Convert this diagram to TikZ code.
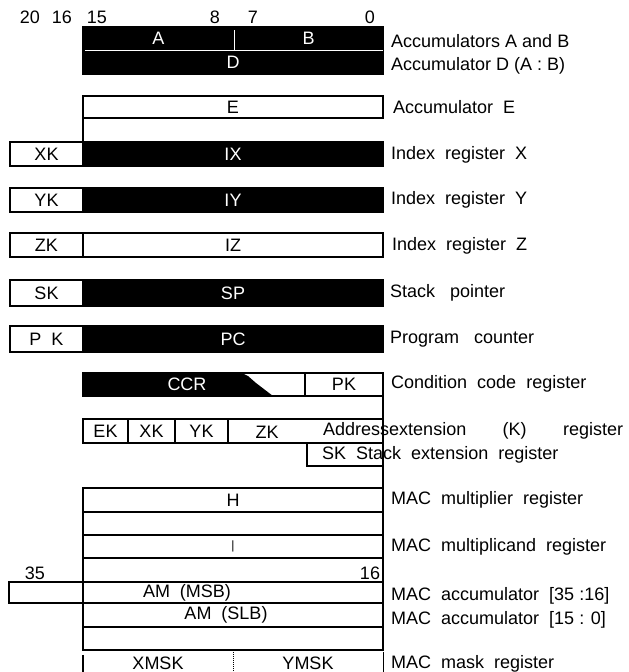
\documentclass[tikz,border=0pt]{standalone}
\usepackage{fontspec}
\setmainfont{Liberation Sans}
\usepackage{tikz}

\begin{document}
\begin{tikzpicture}[x=1pt, y=-1pt, font=\fontsize{18}{21}\selectfont,
    reg/.style={draw, line width=1.4pt, inner sep=0pt, outer sep=0pt, minimum height=24pt},
    dark/.style={reg, fill=black, text=white},
    lbl/.style={anchor=west, inner sep=0pt},
    bit/.style={inner sep=0pt}]
  \useasboundingbox (0,0) rectangle (629,672);
  \node[bit] (b20) at (30,17) {20};
  \node[bit] (b16) at (62,17) {16};
  \node[bit] (b15) at (97,17) {15};
  \node[bit] (b8) at (215,17) {8};
  \node[bit] (b7) at (253,17) {7};
  \node[bit] (b0) at (370,17) {0};

  \node[dark, minimum width=151pt, minimum height=23pt] (A) at (158.5,38.5) {A};
  \node[dark, minimum width=149pt, minimum height=23pt] (B) at (308.5,38.5) {B};
  \node[dark, minimum width=300pt] (D) at (233,62) {D};
  \draw[white, line width=1pt, shorten <=3pt] (A.north east) -- (A.south east);
  \draw[white, line width=1pt, shorten <=2pt] (D.north west) -- (D.north east);

  \node[reg, minimum width=300pt, minimum height=22pt] (E) at (233,107) {E};

  \node[reg, minimum width=73pt] (XKi) at (46.5,154) {XK};
  \node[dark, minimum width=300pt] (IX) at (233,154) {IX};
  \draw[line width=1.4pt] (E.south west) -- (IX.north west);
  \node[reg, minimum width=73pt] (YKi) at (46.5,200) {YK};
  \node[dark, minimum width=300pt] (IY) at (233,200) {IY};
  \node[reg, minimum width=73pt] (ZKi) at (46.5,245) {ZK};
  \node[reg, minimum width=300pt] (IZ) at (233,245) {IZ};
  \node[reg, minimum width=73pt, minimum height=26pt] (SKi) at (46.5,293) {SK};
  \node[dark, minimum width=300pt, minimum height=26pt] (SP) at (233,293) {SP};
  \node[reg, minimum width=73pt, minimum height=26pt] (PKi) at (46.5,339) {P\ \ K};
  \node[dark, minimum width=300pt, minimum height=26pt] (PC) at (233,339) {PC};

  \node[reg, minimum width=222pt, minimum height=23pt, text=white,
    path picture={\fill (path picture bounding box.north west) -- ++(159,0)
      -- ++(6,3) -- ++(8,7) -- ++(17,13) -- (path picture bounding box.south west) -- cycle;}]
    (CCR) at (194,384.5) {\hspace*{-14pt}CCR};
  \node[reg, minimum width=78pt, minimum height=23pt] (PKc) at (344,384.5) {PK};

  \node[reg, minimum width=45pt] (EKa) at (105.5,431) {EK};
  \node[reg, minimum width=47pt] (XKa) at (151.5,431) {XK};
  \node[reg, minimum width=53pt] (YKa) at (201.5,431) {YK};
  \node[reg, minimum width=155pt] (ZKa) at (305.5,431) {};
  \node[bit] (ZKt) at (267,432) {ZK};
  \node[reg, minimum width=76pt, minimum height=23pt] (SKs) at (345,454.5) {};

  \node[reg, minimum width=300pt] (H) at (233,500) {H};
  \draw[line width=1.4pt] (PKc.south east) -- (H.north east);
  \node[reg, minimum width=300pt, minimum height=23pt] (M1) at (233,523.5) {};
  \node[reg, minimum width=300pt, minimum height=23pt] (M2) at (233,546.5) {\fontsize{12}{12}\selectfont|};
  \node[reg, minimum width=300pt] (M3) at (233,570) {};
  \node[bit] (b35) at (35,573) {35};
  \node[bit] (b16m) at (370,573) {16};
  \node[reg, minimum width=74pt, minimum height=21pt] (AMx) at (46,592.5) {};
  \node[reg, minimum width=300pt, minimum height=21pt] (AMh) at (233,592.5) {};
  \node[bit] (tMSB) at (187,592.5) {AM\ \ (MSB)};
  \node[reg, minimum width=300pt] (AMl) at (233,615) {};
  \node[bit] (tSLB) at (226,615) {AM\ \ (SLB)};
  \node[reg, minimum width=300pt, minimum height=23pt] (M4) at (233,638.5) {};
  \node[inner sep=0pt, minimum width=150pt, minimum height=22pt, text height=16pt, text depth=0pt] (XMSK) at (158,661) {XMSK};
  \node[inner sep=0pt, minimum width=150pt, minimum height=22pt, text height=16pt, text depth=0pt] (YMSK) at (308,661) {YMSK};
  \draw[line width=1.4pt] ([yshift=-5pt]XMSK.north west) -- (XMSK.south west);
  \draw[line width=1pt, densely dotted] (XMSK.north east) -- (XMSK.south east);
  \draw[line width=1.4pt] ([yshift=-2pt]YMSK.north east) -- (YMSK.south east);

  \node[lbl] (nAB) at (391,41) {Accumulators A and B};
  \node[lbl] (nD) at (391,66) {Accumulator D (A : B)};
  \node[lbl] (nE) at (393,107) {Accumulator\ \ E};
  \node[lbl] (nX) at (391,155) {Index\ \ register\ \ X};
  \node[lbl] (nY) at (391,200) {Index\ \ register\ \ Y};
  \node[lbl] (nZ) at (392,246) {Index\ \ register\ \ Z};
  \node[lbl] (nSP) at (390,293) {Stack\ \ \ pointer};
  \node[lbl] (nPC) at (390,339) {Program\ \ \ counter};
  \node[lbl] (nCCR) at (391,384) {Condition\ \ code\ \ register};
  \node[lbl, text width=300pt, align=left] (nK) at (323,431) {Addressextension\hfill(K)\hfill register};
  \node[lbl] (nSK) at (322,455) {SK\ \ Stack\ \ extension\ \ register};
  \node[lbl] (nMR) at (391,500) {MAC\ \ multiplier\ \ register};
  \node[lbl] (nMD) at (391,547) {MAC\ \ multiplicand\ \ register};
  \node[lbl] (nAH) at (391,596) {MAC\ \ accumulator\ \ [35 :16]};
  \node[lbl] (nAL) at (391,620) {MAC\ \ accumulator\ \ [15 : 0]};
  \node[lbl] (nMSK) at (391,664) {MAC\ \ mask\ \ register};
\end{tikzpicture}
\end{document}
